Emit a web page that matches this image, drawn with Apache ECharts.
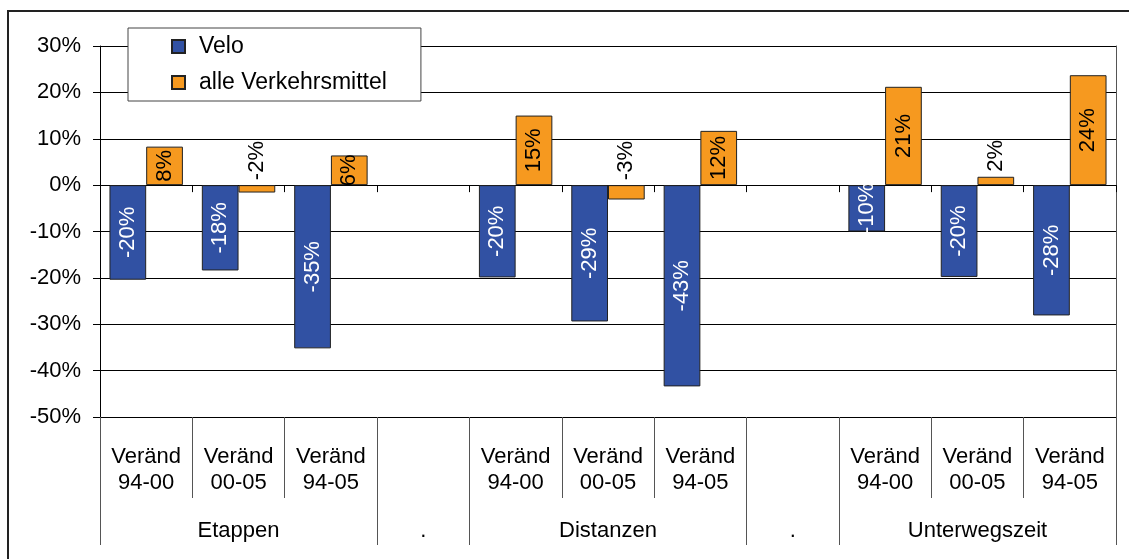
<!DOCTYPE html>
<html>
<head>
<meta charset="utf-8">
<script src="https://cdn.jsdelivr.net/npm/echarts@6/dist/echarts.min.js"></script>
<style>
  html, body { margin: 0; padding: 0; background: #fff; overflow: hidden; }
  #frame { position: absolute; left: 7px; top: 10px; width: 1300px; height: 800px; border: 2px solid #222; }
  #chart { position: absolute; left: 0; top: 0; width: 1129px; height: 559px; }
</style>
</head>
<body>
<div id="frame"></div>
<div id="chart"></div>
<script>
// categories (11 slots: 3 + gap + 3 + gap + 3)
const subLabels = [
  'Veränd\n94-00', 'Veränd\n00-05', 'Veränd\n94-05', '',
  'Veränd\n94-00', 'Veränd\n00-05', 'Veränd\n94-05', '',
  'Veränd\n94-00', 'Veränd\n00-05', 'Veränd\n94-05'
];
const groupLabels = ['', 'Etappen', '', '.', '', 'Distanzen', '', '.', '', 'Unterwegszeit', ''];
const groupBounds = [0, 3, 4, 7, 8];

// values in %
const velo = [-20.4, -18.4, -35.2, null, -19.9, -29.4, -43.4, null, -10.0, -19.8, -28.1];
const alleVm = [8.3, -1.6, 6.4, null, 15.0, -3.1, 11.7, null, 21.2, 1.8, 23.7];

const seriesNames = ['Velo', 'alle Verkehrsmittel'];

const BLUE = '#3151a3';
const ORANGE = '#f6991f';
const FONT = "'Liberation Sans', Arial, sans-serif";

const chart = echarts.init(document.getElementById('chart'));

const pct = p => Math.round(p.value) + '%';

// small values get their label above the bar
const orangeData = alleVm.map(v => {
  if (v == null) return null;
  if (Math.abs(v) < 5) {
    return {
      value: v,
      label: { position: 'top', distance: 5, align: 'left', verticalAlign: 'middle', color: '#000' }
    };
  }
  return v;
});

const option = {
  animation: false,
  textStyle: { fontFamily: FONT, fontSize: 22, color: '#000' },
  grid: { left: 100, right: 13, top: 46, bottom: 142 },
  legend: {
    data: seriesNames,
    orient: 'vertical',
    left: 128,
    top: 28,
    icon: 'rect',
    itemWidth: 13,
    itemHeight: 13,
    itemGap: 13,
    padding: [7, 34, 7, 43],
    backgroundColor: '#fff',
    borderColor: '#444',
    borderWidth: 1,
    textStyle: { fontFamily: FONT, fontSize: 23, color: '#000', padding: [0, 0, 0, 9] }
  },
  xAxis: [
    {
      // bar axis, sits on the 0 line
      type: 'category',
      data: subLabels,
      position: 'bottom',
      axisLine: { onZero: true, lineStyle: { color: '#000', width: 1 } },
      axisTick: { show: true, length: 7, interval: 0, lineStyle: { color: '#000' } },
      axisLabel: { show: false },
      splitLine: { show: false }
    },
    {
      // sub-category labels
      type: 'category',
      data: subLabels,
      position: 'bottom',
      axisLine: { onZero: false, lineStyle: { color: '#000', width: 1 } },
      axisTick: { show: true, length: 81, interval: 0, lineStyle: { color: '#555' } },
      axisLabel: { interval: 0, margin: 27, fontSize: 22, lineHeight: 26, color: '#000', fontFamily: FONT },
      splitLine: { show: false }
    },
    {
      // group labels
      type: 'category',
      data: groupLabels,
      position: 'bottom',
      axisLine: { show: false, onZero: false },
      axisTick: {
        show: true, length: 128,
        interval: (i) => groupBounds.includes(i),
        lineStyle: { color: '#555' }
      },
      axisLabel: { interval: 0, margin: 101, fontSize: 22, lineHeight: 26, color: '#000', fontFamily: FONT },
      splitLine: { show: false }
    }
  ],
  yAxis: [
    {
      type: 'value',
      min: -50,
      max: 30,
      interval: 10,
      axisLine: { show: true, lineStyle: { color: '#000', width: 1 } },
      axisTick: { show: true, length: 7, lineStyle: { color: '#000' } },
      axisLabel: { formatter: '{value}%', margin: 19, fontSize: 22, color: '#000', fontFamily: FONT },
      splitLine: { show: true, lineStyle: { color: '#000', width: 1 } }
    },
    {
      // right border of the plot area
      type: 'value',
      min: -50,
      max: 30,
      interval: 10,
      position: 'right',
      axisLine: { show: true, lineStyle: { color: '#555', width: 1 } },
      axisTick: { show: false },
      axisLabel: { show: false },
      splitLine: { show: false }
    }
  ],
  series: [
    {
      name: seriesNames[0],
      type: 'bar',
      xAxisIndex: 0,
      yAxisIndex: 0,
      data: velo,
      barGap: '0%',
      barCategoryGap: '20.5%',
      itemStyle: { color: BLUE, borderColor: '#222', borderWidth: 1 },
      label: {
        show: true,
        position: 'inside',
        rotate: 90,
        formatter: pct,
        color: '#fff',
        fontSize: 22,
        fontFamily: FONT
      }
    },
    {
      name: seriesNames[1],
      type: 'bar',
      xAxisIndex: 0,
      yAxisIndex: 0,
      data: orangeData,
      barGap: '0%',
      barCategoryGap: '20.5%',
      itemStyle: { color: ORANGE, borderColor: '#222', borderWidth: 1 },
      label: {
        show: true,
        position: 'inside',
        rotate: 90,
        formatter: pct,
        color: '#000',
        fontSize: 22,
        fontFamily: FONT
      }
    }
  ]
};

chart.setOption(option);
</script>
</body>
</html>
